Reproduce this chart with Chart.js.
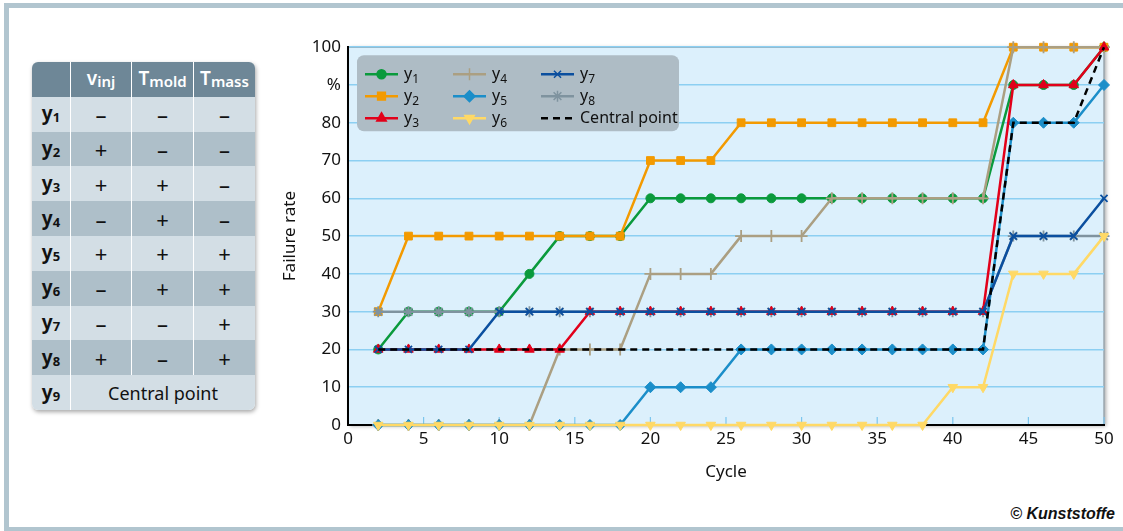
<!DOCTYPE html>
<html>
<head>
<meta charset="utf-8">
<script src="https://cdn.jsdelivr.net/npm/chart.js@4.4.1/dist/chart.umd.min.js"></script>
<style>
  body { margin: 0; background: #fff; width: 1123px; height: 531px; overflow: hidden; position: relative; font-family: "Noto Sans", sans-serif; }
  #frame { position: absolute; left: 4px; top: 3px; width: 1140px; height: 519px; border: 5px solid #b1c5cf; border-right: none; }
  #tbl { position: absolute; left: 32px; top: 62px; border-collapse: collapse; border-radius: 6px; overflow: hidden; box-shadow: 1px 2px 4px rgba(0,0,0,0.35); font-size: 22px; color: #111; }
  #tbl td, #tbl th { height: 34.8px; padding: 0; text-align: center; line-height: 1; }
  #tbl th { background: #6e8797; color: #fff; font-weight: 600; font-size: 19px; border-left: 1.5px solid #fff; }
  #tbl th:first-child { border-left: none; }
  #tbl td { border-left: 1.5px solid #fff; }
  #tbl td:first-child { border-left: none; font-weight: 700; width: 38px; font-size: 19px; }
  #tbl td.cp { font-size: 18px; }
  #tbl tr.a td { background: #d3dee5; }
  #tbl tr.b td { background: #aebfc9; }
  #tbl sub { font-size: 13px; vertical-align: -2px; }
  #tbl th sub { font-size: 15px; }
  #wrap { position: absolute; left: 270px; top: 30px; width: 850px; height: 470px; }
  #copy { position: absolute; right: 8px; top: 505px; font: italic bold 16px "Liberation Sans", Arial, sans-serif; color: #111; }
</style>
</head>
<body>
<div id="frame"></div>
<table id="tbl">
  <tr><th style="width:38px"></th><th style="width:60px">v<sub>inj</sub></th><th style="width:61px">T<sub>mold</sub></th><th style="width:61px">T<sub>mass</sub></th></tr>
</table>
<div id="wrap"><canvas id="chart"></canvas></div>
<div id="copy">© Kunststoffe</div>
<script>
const cycles = [2, 4, 6, 8, 10, 12, 14, 16, 18, 20, 22, 24, 26, 28, 30, 32, 34, 36, 38, 40, 42, 44, 46, 48, 50];
const y1 = [20, 30, 30, 30, 30, 40, 50, 50, 50, 60, 60, 60, 60, 60, 60, 60, 60, 60, 60, 60, 60, 90, 90, 90, 100];
const y2 = [30, 50, 50, 50, 50, 50, 50, 50, 50, 70, 70, 70, 80, 80, 80, 80, 80, 80, 80, 80, 80, 100, 100, 100, 100];
const y3 = [20, 20, 20, 20, 20, 20, 20, 30, 30, 30, 30, 30, 30, 30, 30, 30, 30, 30, 30, 30, 30, 90, 90, 90, 100];
const y4 = [0, 0, 0, 0, 0, 0, 20, 20, 20, 40, 40, 40, 50, 50, 50, 60, 60, 60, 60, 60, 60, 100, 100, 100, 100];
const y5 = [0, 0, 0, 0, 0, 0, 0, 0, 0, 10, 10, 10, 20, 20, 20, 20, 20, 20, 20, 20, 20, 80, 80, 80, 90];
const y6 = [0, 0, 0, 0, 0, 0, 0, 0, 0, 0, 0, 0, 0, 0, 0, 0, 0, 0, 0, 10, 10, 40, 40, 40, 50];
const y7 = [20, 20, 20, 20, 30, 30, 30, 30, 30, 30, 30, 30, 30, 30, 30, 30, 30, 30, 30, 30, 30, 50, 50, 50, 60];
const y8 = [30, 30, 30, 30, 30, 30, 30, 30, 30, 30, 30, 30, 30, 30, 30, 30, 30, 30, 30, 30, 30, 50, 50, 50, 50];
const central = [20, 20, 20, 20, 20, 20, 20, 20, 20, 20, 20, 20, 20, 20, 20, 20, 20, 20, 20, 20, 20, 80, 80, 80, 100];

const yTicks = [0, 10, 20, 30, 40, 50, 60, 70, 80, "%", 100];

// table rows: name, v_inj, T_mold, T_mass
const tableRows = [
  ["1", "–", "–", "–"],
  ["2", "+", "–", "–"],
  ["3", "+", "+", "–"],
  ["4", "–", "+", "–"],
  ["5", "+", "+", "+"],
  ["6", "–", "+", "+"],
  ["7", "–", "–", "+"],
  ["8", "+", "–", "+"],
];

const tbl = document.querySelector("#tbl");
tableRows.forEach((r, i) => {
  tbl.insertAdjacentHTML("beforeend",
    `<tr class="${i % 2 ? "b" : "a"}"><td>y<sub>${r[0]}</sub></td><td>${r[1]}</td><td>${r[2]}</td><td>${r[3]}</td></tr>`);
});
tbl.insertAdjacentHTML("beforeend", `<tr class="a"><td>y<sub>9</sub></td><td class="cp" colspan="3">Central point</td></tr>`);

const series = [
  { name: "1", data: y1, color: "#0a9a3c", style: "circle", r: 4.5 },
  { name: "2", data: y2, color: "#f39a00", style: "rect", r: 5.5 },
  { name: "3", data: y3, color: "#e2001a", style: "triangle", r: 5.5 },
  { name: "4", data: y4, color: "#ab9f82", style: "cross", r: 6 },
  { name: "5", data: y5, color: "#1b8ec9", style: "rectRot", r: 5.5 },
  { name: "6", data: y6, color: "#ffd966", style: "triangle", r: 5.5, rot: 180 },
  { name: "7", data: y7, color: "#0b4f9f", style: "crossRot", r: 5 },
  { name: "8", data: y8, color: "#7f939f", style: "star", r: 5.5 },
  { name: "Central point", data: central, color: "#000", style: false, r: 0, dash: [7, 5] },
];
// draw order: y1 at the bottom, central point on top
const drawOrder = ["1", "2", "8", "4", "5", "6", "3", "7", "Central point"];

const datasets = series.map((s) => ({
  label: s.name,
  data: s.data.map((v, i) => ({ x: cycles[i], y: v })),
  borderColor: s.color,
  backgroundColor: s.color,
  borderWidth: 2.5,
  borderDash: s.dash || [],
  pointStyle: s.style,
  pointRadius: s.r,
  pointRotation: s.rot || 0,
  pointBorderWidth: s.style === "cross" || s.style === "crossRot" || s.style === "star" ? 1.8 : 1,
  tension: 0,
  clip: false,
  order: drawOrder.length - drawOrder.indexOf(s.name),
}));

const plotDecor = {
  id: "plotDecor",
  beforeDraw(chart) {
    const { ctx, chartArea: a } = chart;
    ctx.save();
    ctx.shadowColor = "rgba(0,0,0,0.35)";
    ctx.shadowBlur = 4;
    ctx.shadowOffsetX = 2;
    ctx.shadowOffsetY = 1;
    ctx.fillStyle = "#dcf0fc";
    ctx.fillRect(a.left, a.top, a.width, a.height);
    ctx.restore();
    ctx.save();
    ctx.strokeStyle = "#9aa7ae";
    ctx.lineWidth = 1.5;
    ctx.beginPath();
    ctx.moveTo(a.left, a.top);
    ctx.lineTo(a.right, a.top);
    ctx.lineTo(a.right, a.bottom);
    ctx.stroke();
    // small x ticks pointing into the plot
    const xs = chart.scales.x;
    ctx.strokeStyle = "#7cc6ee";
    ctx.lineWidth = 1.2;
    xs.ticks.forEach((t) => {
      const px = xs.getPixelForValue(t.value);
      ctx.beginPath();
      ctx.moveTo(px, a.bottom);
      ctx.lineTo(px, a.bottom - 8);
      ctx.stroke();
    });
    ctx.restore();
  },
};

const subLabel = (ctx, text, x, y) => {
  ctx.font = "16px 'Noto Sans'";
  if (text.length > 2) {
    ctx.fillText(text, x, y);
    return;
  }
  ctx.fillText("y", x, y);
  const w = ctx.measureText("y").width;
  ctx.font = "12px 'Noto Sans'";
  ctx.fillText(text, x + w, y + 5);
};

const legendBox = {
  id: "legendBox",
  afterDatasetsDraw(chart) {
    const { ctx, chartArea: a } = chart;
    const bx = a.left + 9, by = a.top + 8;
    ctx.save();
    ctx.fillStyle = "#aebcc5";
    ctx.beginPath();
    ctx.roundRect(bx, by, 322, 76, 7);
    ctx.fill();
    ctx.textBaseline = "middle";
    ctx.fillStyle = "#111";
    series.forEach((s, i) => {
      const col = Math.floor(i / 3), row = i % 3;
      const x0 = bx + 8 + col * 88, yy = by + 19 + row * 22;
      ctx.save();
      ctx.strokeStyle = s.color;
      ctx.lineWidth = 2.5;
      ctx.setLineDash(s.dash || []);
      ctx.beginPath();
      ctx.moveTo(x0, yy);
      ctx.lineTo(x0 + 33, yy);
      ctx.stroke();
      ctx.setLineDash([]);
      if (s.style) {
        ctx.fillStyle = s.color;
        ctx.lineWidth = 1.5;
        Chart.helpers.drawPoint(ctx, { pointStyle: s.style, radius: s.r, rotation: s.rot || 0, borderWidth: 1.5 }, x0 + 16.5, yy);
      }
      ctx.restore();
      subLabel(ctx, s.name, x0 + 39, yy);
    });
    ctx.restore();
  },
};

new Chart(document.querySelector("#chart"), {
  type: "line",
  data: { datasets },
  plugins: [plotDecor, legendBox],
  options: {
    responsive: true,
    maintainAspectRatio: false,
    animation: false,
    layout: { padding: { left: 10, top: 16, right: 16, bottom: 18 } },
    plugins: { legend: { display: false }, tooltip: { enabled: false } },
    scales: {
      x: {
        type: "linear",
        min: 0,
        max: 50,
        ticks: { stepSize: 5, color: "#111", font: { size: 17, family: "Noto Sans" }, padding: 4, maxRotation: 0 },
        grid: { display: false, drawTicks: false },
        border: { display: true, color: "#000", width: 2 },
        title: { display: true, text: "Cycle", color: "#111", font: { size: 17, family: "Noto Sans" }, padding: 0 },
        afterFit: (s) => { s.height = 57; },
      },
      y: {
        min: 0,
        max: 100,
        ticks: {
          stepSize: 10,
          color: "#111",
          font: { size: 17, family: "Noto Sans" },
          padding: 7,
          callback: (v) => yTicks[v / 10],
        },
        grid: { color: "#8ccff2", lineWidth: 1.5, drawTicks: false },
        border: { display: true, color: "#000", width: 2 },
        title: { display: true, text: "Failure rate", color: "#111", font: { size: 17, family: "Noto Sans" }, padding: 0 },
        afterFit: (s) => { s.width = 68; },
      },
    },
  },
});
</script>
</body>
</html>
